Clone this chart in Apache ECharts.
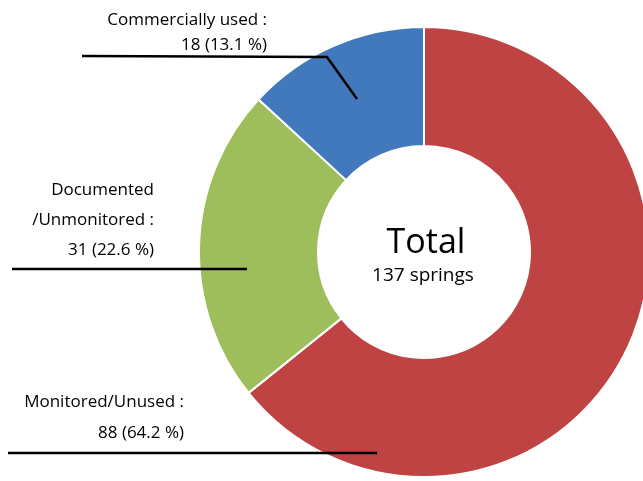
<!DOCTYPE html>
<html>
<head>
<meta charset="utf-8">
<script src="https://cdn.jsdelivr.net/npm/echarts@6/dist/echarts.min.js"></script>
<style>
  html, body { margin: 0; padding: 0; background: #fff; }
  #chart { width: 643px; height: 481px; }
</style>
</head>
<body>
<div id="chart"></div>
<script>
// Spring status breakdown
const categories = ['Monitored/Unused', 'Documented\n/Unmonitored', 'Commercially used'];
const counts = [88, 31, 18];
const percents = [64.2, 22.6, 13.1];
const colors = ['#BE4342', '#9DBE5B', '#4279BC'];
const totalLabel = 'Total';
const unitLabel = 'springs';
const totalCount = counts.reduce((a, b) => a + b, 0);

const FONT = '"Open Sans", "Noto Sans", sans-serif';

// Label placement for each slice: text box and leader line path
const labelSpots = [
  { x: 184, y: 387, lh: 31, line: [[377, 453], [200, 453], [8, 453]] },
  { x: 154, y: 175, lh: 30, line: [[247, 269], [130, 269], [12, 269]] },
  { x: 267, y: 8,   lh: 25, line: [[357, 99], [327, 57], [82, 56]] }
];

const chart = echarts.init(document.getElementById('chart'), null, { renderer: 'canvas' });

const leaderLines = labelSpots.map(s => ({
  type: 'polyline',
  z: 100,
  shape: { points: s.line },
  style: { stroke: '#000', lineWidth: 2.5, fill: null }
}));

chart.setOption({
  animation: false,
  backgroundColor: '#ffffff',
  graphic: [
    {
      type: 'text', z: 100, x: 426, y: 243,
      style: {
        text: totalLabel, fill: '#000', font: '34px ' + FONT,
        textAlign: 'center', textVerticalAlign: 'middle'
      }
    },
    {
      type: 'text', z: 100, x: 423, y: 276,
      style: {
        text: totalCount + ' ' + unitLabel, fill: '#000', font: '19px ' + FONT,
        textAlign: 'center', textVerticalAlign: 'middle'
      }
    }
  ].concat(leaderLines),
  series: [{
    type: 'pie',
    center: [424, 252],
    radius: [106, 225],
    startAngle: 90,
    clockwise: true,
    silent: true,
    avoidLabelOverlap: false,
    itemStyle: { borderColor: '#ffffff', borderWidth: 2 },
    data: categories.map((name, i) => ({
      name: name,
      value: counts[i],
      itemStyle: { color: colors[i] },
      label: { lineHeight: labelSpots[i].lh }
    })),
    label: {
      show: true,
      position: 'outside',
      color: '#000',
      fontFamily: FONT,
      fontSize: 17,
      align: 'right',
      formatter: p => p.name + ' :\n' + counts[p.dataIndex] + ' (' + percents[p.dataIndex].toFixed(1) + ' %)'
    },
    labelLine: { show: false },
    labelLayout: function (params) {
      const s = labelSpots[params.dataIndex];
      return {
        x: s.x,
        y: s.y,
        align: 'right',
        verticalAlign: 'top'
      };
    }
  }]
});
</script>
</body>
</html>
